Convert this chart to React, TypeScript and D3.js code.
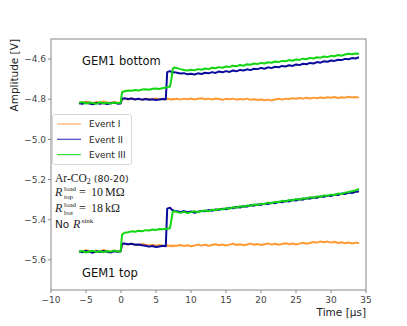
import React from "react";
import * as d3 from "d3";

// time axis [µs]
const TIME = [
  -6, -5.5, -5, -4.5, -4, -3.5, -3, -2.5, -2, -1.5, -1, -0.5, -0.05, 0.15,
  0.5, 1, 1.5, 2, 2.5, 3, 3.5, 4, 4.5, 5, 5.5, 6,
  6.4, 6.6, 7, 7.2, 7.4, 7.6,
  8, 8.5, 9, 9.5, 10, 10.5, 11, 11.5, 12, 12.5, 13, 13.5, 14, 14.5, 15, 15.5,
  16, 16.5, 17, 17.5, 18, 18.5, 19, 19.5, 20, 20.5, 21, 21.5, 22, 22.5, 23, 23.5,
  24, 24.5, 25, 25.5, 26, 26.5, 27, 27.5, 28, 28.5, 29, 29.5, 30, 30.5, 31, 31.5,
  32, 32.5, 33, 33.5, 34,
];

// GEM1 bottom
const BOTTOM_EVENT_I = [
  -4.815, -4.818, -4.812, -4.816, -4.82, -4.813, -4.817, -4.811, -4.816, -4.819, -4.814, -4.817, -4.816, -4.8,
  -4.797, -4.801, -4.796, -4.8, -4.798, -4.803, -4.797, -4.799, -4.802, -4.796, -4.8, -4.798,
  -4.801, -4.797, -4.799, -4.803, -4.798, -4.8,
  -4.798, -4.802, -4.797, -4.8, -4.796, -4.801, -4.798, -4.795, -4.8, -4.797, -4.801, -4.796, -4.799, -4.803, -4.798, -4.8,
  -4.797, -4.802, -4.799, -4.801, -4.797, -4.803, -4.8, -4.804, -4.801, -4.805, -4.802, -4.806, -4.801, -4.798, -4.802, -4.797,
  -4.799, -4.795, -4.798, -4.794, -4.797, -4.793, -4.796, -4.792, -4.795, -4.791, -4.794, -4.79, -4.793, -4.789, -4.794, -4.79,
  -4.792, -4.788, -4.791, -4.789, -4.792,
];
const BOTTOM_EVENT_II = [
  -4.82, -4.823, -4.817, -4.821, -4.825, -4.818, -4.822, -4.819, -4.824, -4.82, -4.817, -4.822, -4.821, -4.797,
  -4.795, -4.799, -4.796, -4.801, -4.798, -4.802, -4.799, -4.803, -4.8, -4.804, -4.801, -4.799,
  -4.8, -4.665, -4.66, -4.664, -4.668, -4.665,
  -4.668, -4.672, -4.67, -4.676, -4.673, -4.677, -4.671, -4.674, -4.668, -4.671, -4.665, -4.669, -4.662, -4.666, -4.66, -4.664,
  -4.657, -4.661, -4.654, -4.657, -4.651, -4.655, -4.648, -4.65, -4.644, -4.648, -4.641, -4.645, -4.638, -4.641, -4.634, -4.637,
  -4.631, -4.634, -4.627, -4.63, -4.623, -4.626, -4.619, -4.622, -4.615, -4.618, -4.611, -4.613, -4.607, -4.609, -4.603, -4.605,
  -4.599, -4.601, -4.595, -4.597, -4.591,
];
const BOTTOM_EVENT_III = [
  -4.818, -4.814, -4.821, -4.816, -4.819, -4.823, -4.815, -4.82, -4.817, -4.822, -4.816, -4.819, -4.818, -4.765,
  -4.76, -4.757, -4.758, -4.754, -4.756, -4.752, -4.75, -4.753, -4.748, -4.746, -4.749, -4.744,
  -4.742, -4.74, -4.737, -4.7, -4.648, -4.642,
  -4.645, -4.65, -4.654, -4.657, -4.653, -4.656, -4.65, -4.653, -4.647, -4.65, -4.643, -4.646, -4.64, -4.643, -4.637, -4.639,
  -4.633, -4.636, -4.629, -4.633, -4.626, -4.628, -4.622, -4.625, -4.619, -4.622, -4.616, -4.618, -4.612, -4.615, -4.609, -4.611,
  -4.605, -4.608, -4.602, -4.604, -4.598, -4.601, -4.594, -4.597, -4.591, -4.593, -4.587, -4.59, -4.584, -4.586, -4.58, -4.583,
  -4.577, -4.574, -4.576, -4.572, -4.574,
];

// GEM1 top
const TOP_EVENT_I = [
  -5.555, -5.56, -5.552, -5.557, -5.562, -5.554, -5.558, -5.551, -5.556, -5.56, -5.553, -5.557, -5.556, -5.522,
  -5.52, -5.524, -5.519, -5.523, -5.526, -5.521, -5.525, -5.528, -5.524, -5.529, -5.526, -5.53,
  -5.531, -5.527, -5.532, -5.528, -5.533, -5.529,
  -5.53, -5.526, -5.531, -5.527, -5.532, -5.528, -5.524, -5.529, -5.525, -5.53, -5.526, -5.522, -5.527, -5.523, -5.528, -5.524,
  -5.52, -5.526, -5.522, -5.527, -5.523, -5.519, -5.525, -5.521, -5.526, -5.522, -5.518, -5.524, -5.52, -5.525, -5.521, -5.517,
  -5.522, -5.518, -5.523, -5.519, -5.515, -5.52, -5.516, -5.511, -5.514, -5.508, -5.512, -5.509, -5.514, -5.51, -5.516, -5.512,
  -5.517, -5.513, -5.518, -5.514, -5.517,
];
const TOP_EVENT_II = [
  -5.558, -5.562, -5.555, -5.56, -5.564, -5.557, -5.561, -5.556, -5.56, -5.563, -5.557, -5.559, -5.558, -5.52,
  -5.518, -5.522, -5.52, -5.525, -5.523, -5.527, -5.53, -5.534, -5.531, -5.536, -5.533, -5.53,
  -5.532, -5.345, -5.34, -5.348, -5.352, -5.356,
  -5.358, -5.362, -5.357, -5.363, -5.359, -5.365, -5.36, -5.356, -5.358, -5.352, -5.355, -5.349, -5.351, -5.345, -5.348, -5.341,
  -5.343, -5.337, -5.339, -5.333, -5.335, -5.328, -5.33, -5.324, -5.326, -5.32, -5.322, -5.316, -5.318, -5.311, -5.313, -5.307,
  -5.309, -5.302, -5.304, -5.298, -5.3, -5.293, -5.295, -5.289, -5.291, -5.284, -5.286, -5.28, -5.282, -5.275, -5.277, -5.27,
  -5.272, -5.265, -5.267, -5.261, -5.259,
];
const TOP_EVENT_III = [
  -5.56, -5.556, -5.563, -5.558, -5.555, -5.561, -5.557, -5.562, -5.556, -5.559, -5.554, -5.558, -5.557, -5.475,
  -5.465, -5.462, -5.458, -5.46, -5.455, -5.457, -5.452, -5.454, -5.449, -5.451, -5.446, -5.448,
  -5.444, -5.446, -5.442, -5.4, -5.36, -5.358,
  -5.362, -5.366, -5.361, -5.367, -5.362, -5.358, -5.363, -5.357, -5.354, -5.358, -5.35, -5.353, -5.346, -5.349, -5.342, -5.345,
  -5.338, -5.34, -5.333, -5.336, -5.329, -5.331, -5.324, -5.327, -5.32, -5.322, -5.315, -5.318, -5.311, -5.313, -5.306, -5.309,
  -5.302, -5.304, -5.297, -5.3, -5.293, -5.295, -5.288, -5.291, -5.284, -5.286, -5.279, -5.281, -5.275, -5.277, -5.27, -5.272,
  -5.265, -5.262, -5.258, -5.254, -5.246,
];

const EVENT_NAMES = ["Event I", "Event II", "Event III"];
const EVENT_COLORS = ["#ff9933", "#0a0a9c", "#11d611"];
const LEGEND_COLORS = ["#ffaa66", "#4444bb", "#33dd33"];
const X_TICKS = [-10, -5, 0, 5, 10, 15, 20, 25, 30, 35];
const Y_TICKS = [-4.6, -4.8, -5.0, -5.2, -5.4, -5.6];

const W = 407;
const H = 326;
const L = 51, R = 366, T = 39, B = 290;

const SANS = "DejaVu Sans, sans-serif";
const SERIF = "Liberation Serif, DejaVu Serif, serif";

export default function App() {
  const x = d3.scaleLinear().domain([-10, 35]).range([L, R]);
  const y = d3.scaleLinear().domain([-5.75, -4.5]).range([B, T]);
  const mk = (vals: number[]) =>
    d3
      .line<number>()
      .x((_, i) => x(TIME[i]))
      .y((v) => y(v))(vals.slice(0, TIME.length)) || "";

  const bottom = [BOTTOM_EVENT_I, BOTTOM_EVENT_II, BOTTOM_EVENT_III];
  const top = [TOP_EVENT_I, TOP_EVENT_II, TOP_EVENT_III];

  return (
    <svg width={W} height={H} style={{ position: "absolute", left: 0, top: 0, background: "#fff" }}>
      <defs>
        <clipPath id="plotclip">
          <rect x={L} y={T} width={R - L} height={B - T} />
        </clipPath>
      </defs>
      <g clipPath="url(#plotclip)">
        {[0, 1, 2].map((k) => (
          <g key={k}>
            <path d={mk(bottom[k])} fill="none" stroke={EVENT_COLORS[k]} strokeWidth={2} strokeLinejoin="round" />
            <path d={mk(top[k])} fill="none" stroke={EVENT_COLORS[k]} strokeWidth={2} strokeLinejoin="round" />
          </g>
        ))}
      </g>
      {/* frame */}
      <rect x={L} y={T} width={R - L} height={B - T} fill="none" stroke="#888" strokeWidth={1} />
      {/* x ticks */}
      {X_TICKS.map((t) => (
        <g key={"x" + t}>
          <line x1={x(t)} x2={x(t)} y1={B} y2={B + 3} stroke="#888" />
          <text x={x(t)} y={B + 12.5} textAnchor="middle" fontFamily={SANS} fontSize={9} fill="#444">
            {(t < 0 ? "\u2212" : "") + Math.abs(t)}
          </text>
        </g>
      ))}
      {/* y ticks */}
      {Y_TICKS.map((t) => (
        <g key={"y" + t}>
          <line x1={L - 3} x2={L} y1={y(t)} y2={y(t)} stroke="#888" />
          <text x={L - 5} y={y(t) + 3.2} textAnchor="end" fontFamily={SANS} fontSize={9} fill="#444">
            {"\u2212" + Math.abs(t).toFixed(1)}
          </text>
        </g>
      ))}
      {/* axis labels */}
      <text x={R} y={316} textAnchor="end" fontFamily={SANS} fontSize={10.5} fill="#222">
        Time [µs]
      </text>
      <text transform={`translate(18,${T}) rotate(-90)`} textAnchor="end" fontFamily={SANS} fontSize={10.5} fill="#222">
        Amplitude [V]
      </text>
      {/* panel labels */}
      <text x={82} y={65} fontFamily={SANS} fontSize={11.5} fill="#111">GEM1 bottom</text>
      <text x={82} y={277} fontFamily={SANS} fontSize={11.5} fill="#111">GEM1 top</text>
      {/* legend */}
      <rect x={52.5} y={114.5} width={79} height={50} rx={2} fill="#fff" fillOpacity={0.8} stroke="#ccc" strokeWidth={0.8} />
      {EVENT_NAMES.map((n, k) => {
        const yy = 124 + k * 15.3;
        return (
          <g key={n}>
            <line x1={57} x2={81} y1={yy} y2={yy} stroke={LEGEND_COLORS[k]} strokeWidth={1.2} />
            <text x={89} y={yy + 3.3} fontFamily={SANS} fontSize={9} fill="#222">{n}</text>
          </g>
        );
      })}
      {/* annotation */}
      <g fill="#222">
        <text x={55} y={182} fontFamily={SERIF} fontSize={11.5}>
          Ar-CO<tspan fontSize={8} dy={2}>2</tspan>
          <tspan dy={-2} dx={3} fontFamily={SANS} fontSize={9.5}>(80-20)</tspan>
        </text>
        <text x={55} y={196} fontFamily={SERIF} fontSize={12} fontStyle="italic">R</text>
        <text x={64} y={190.5} fontFamily={SERIF} fontSize={7}>load</text>
        <text x={64} y={198.5} fontFamily={SERIF} fontSize={7}>top</text>
        <text x={79} y={196} fontFamily={SERIF} fontSize={12}>=</text>
        <text x={91} y={196} fontFamily={SERIF} fontSize={12}>10</text>
        <text x={105} y={196} fontFamily={SERIF} fontSize={12}>MΩ</text>
        <text x={55} y={212} fontFamily={SERIF} fontSize={12} fontStyle="italic">R</text>
        <text x={64} y={207} fontFamily={SERIF} fontSize={7}>load</text>
        <text x={64} y={215} fontFamily={SERIF} fontSize={7}>bot</text>
        <text x={79} y={212} fontFamily={SERIF} fontSize={12}>=</text>
        <text x={91} y={212} fontFamily={SERIF} fontSize={12}>18</text>
        <text x={105} y={212} fontFamily={SERIF} fontSize={12}>kΩ</text>
        <text x={55} y={227.5} fontFamily={SANS} fontSize={10.5}>No</text>
        <text x={73} y={227.5} fontFamily={SERIF} fontSize={12} fontStyle="italic">R</text>
        <text x={81.5} y={222.5} fontFamily={SERIF} fontSize={7}>sink</text>
      </g>
    </svg>
  );
}
